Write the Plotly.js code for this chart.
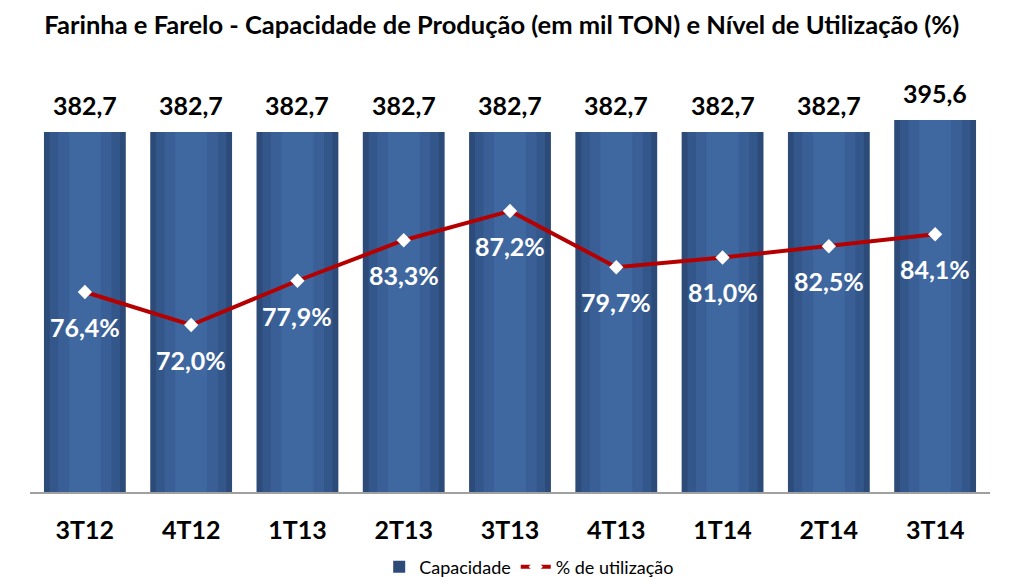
<!DOCTYPE html>
<html>
<head>
<meta charset="utf-8">
<script src="https://cdn.plot.ly/plotly-3.0.1.min.js"></script>
<style>
  html, body { margin: 0; padding: 0; background: #fff; }
  #chart { width: 1024px; height: 588px; }
</style>
</head>
<body>
<div id="chart"></div>
<script>
// quarters and values
var quarters = ["3T12", "4T12", "1T13", "2T13", "3T13", "4T13", "1T14", "2T14", "3T14"];
var capacidade = [382.7, 382.7, 382.7, 382.7, 382.7, 382.7, 382.7, 382.7, 395.6];
var utilizacao = [76.4, 72.0, 77.9, 83.3, 87.2, 79.7, 81.0, 82.5, 84.1];

var FONT = "Lato, sans-serif";

function fmt(v) {
  return v.toFixed(1).replace(".", ",");
}

// bars, layered narrower and lighter to fake the cylinder shading
var shades = [
  { w: 0.77, c: "#2c4b79" },
  { w: 0.66, c: "#33578a" },
  { w: 0.50, c: "#395f96" },
  { w: 0.30, c: "#3f68a1" }
];

var plotData = [];
shades.forEach(function (s, i) {
  plotData.push({
    x: quarters,
    y: capacidade,
    type: "bar",
    width: s.w,
    name: "Capacidade",
    showlegend: i === 0,
    marker: { color: s.c },
    hoverinfo: "skip"
  });
});

plotData.push({
  x: quarters,
  y: utilizacao,
  yaxis: "y2",
  type: "scatter",
  mode: "lines+markers",
  name: "% de utilização",
  line: { color: "#b40000", width: 4 },
  marker: { symbol: "diamond", size: 11, color: "#ffffff" }
});

var annotations = [];
quarters.forEach(function (q, i) {
  annotations.push({
    x: q, y: capacidade[i], xref: "x", yref: "y",
    text: "<b>" + fmt(capacidade[i]) + "</b>",
    showarrow: false, yanchor: "middle", yshift: 27,
    font: { family: FONT, size: 25, color: "#000000" }
  });
  annotations.push({
    x: q, y: utilizacao[i], xref: "x", yref: "y2",
    text: "<b>" + fmt(utilizacao[i]) + "%</b>",
    showarrow: false, yanchor: "middle", yshift: -35,
    font: { family: FONT, size: 25, color: "#ffffff" }
  });
});

var layout = {
  width: 1024,
  height: 588,
  margin: { l: 30, r: 34, t: 97, b: 96, autoexpand: false },
  paper_bgcolor: "#ffffff",
  plot_bgcolor: "#ffffff",
  barmode: "overlay",
  font: { family: FONT, color: "#000000" },
  title: {
    text: "<b>Farinha e Farelo - Capacidade de Produção (em mil TON) e Nível de Utilização (%)</b>",
    font: { family: FONT, size: 25.5, color: "#000000" },
    x: 0.49, xanchor: "center",
    y: 0.957, yanchor: "middle"
  },
  xaxis: {
    type: "category",
    showline: true,
    linecolor: "#a0a0a0",
    linewidth: 2,
    ticks: "",
    showgrid: false,
    ticklabelstandoff: 15,
    tickfont: { family: FONT, size: 25, color: "#000000", weight: "bold" }
  },
  yaxis: {
    range: [0, 420],
    visible: false,
    showgrid: false,
    zeroline: false
  },
  yaxis2: {
    range: [49.73, 102.4],
    overlaying: "y",
    side: "right",
    visible: false,
    showgrid: false,
    zeroline: false
  },
  showlegend: true,
  legend: {
    orientation: "h",
    x: 0.52, xanchor: "center",
    y: -0.19, yanchor: "middle",
    font: { family: FONT, size: 18, color: "#000000" },
    traceorder: "normal"
  },
  annotations: annotations
};

Plotly.newPlot("chart", plotData, layout, { displayModeBar: false, staticPlot: true });
</script>
</body>
</html>
